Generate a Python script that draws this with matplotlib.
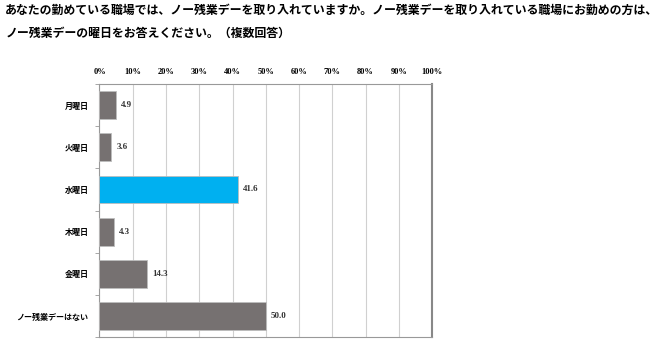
import matplotlib
matplotlib.use("Agg")
import matplotlib.pyplot as plt
import numpy as np

plt.rcParams['font.family'] = ['Noto Sans CJK JP', 'DejaVu Sans']

# dane
kategorie = ["月曜日", "火曜日", "水曜日", "木曜日", "金曜日", "ノー残業デーはない"]
wartosci = [4.9, 3.6, 41.6, 4.3, 14.3, 50.0]
kolory = ["#767171", "#767171", "#00B0F0", "#767171", "#767171", "#767171"]
ticki = [0, 10, 20, 30, 40, 50, 60, 70, 80, 90, 100]
tytul = ("あなたの勤めている職場では、ノー残業デーを取り入れていますか。ノー残業デーを取り入れている職場にお勤めの方は、\n"
         "ノー残業デーの曜日をお答えください。（複数回答）")

fig = plt.figure(figsize=(6.7, 3.53), dpi=100)
fig.text(0.008, 0.99, tytul, fontsize=8.6, fontweight='bold', va='top', ha='left',
         linespacing=2.05)

ax = fig.add_axes([0.1485, 0.045, 0.4963, 0.717])
y = np.arange(len(kategorie))
ax.barh(y, wartosci, height=0.66, color=kolory, edgecolor="#bdbdbd", linewidth=0.6, zorder=3)

for yi, v in zip(y, wartosci):
    ax.text(v + 1.5, yi, f"{v:.1f}", va='center', ha='left', fontsize=6.5,
            family=['Liberation Serif', 'DejaVu Serif'], fontweight='bold', color="#333333")

ax.set_xlim(0, 100)
ax.set_ylim(len(kategorie) - 0.5, -0.5)
ax.set_xticks(ticki)
ax.set_xticklabels([f"{t}%" for t in ticki], fontsize=6,
                   family=['Liberation Serif', 'DejaVu Serif'], fontweight='bold')
ax.xaxis.tick_top()
ax.tick_params(axis='x', length=0, pad=6)
ax.set_yticks(y)
ax.set_yticklabels(kategorie, fontsize=5.8, fontweight='bold')
ax.set_yticks(np.arange(-0.5, len(kategorie)), minor=True)
ax.tick_params(axis='y', which='major', length=0, pad=8)
ax.tick_params(axis='y', which='minor', length=3, color="#999999", direction='out')

ax.grid(axis='x', color="#d0d0d0", linewidth=0.8, zorder=0)
ax.spines['top'].set_color("#999999")
ax.spines['left'].set_color("#999999")
ax.spines['bottom'].set_color("#999999")
ax.spines['right'].set_color("#888888")
ax.spines['right'].set_linewidth(1.5)

fig.savefig("out.png", dpi=100)
